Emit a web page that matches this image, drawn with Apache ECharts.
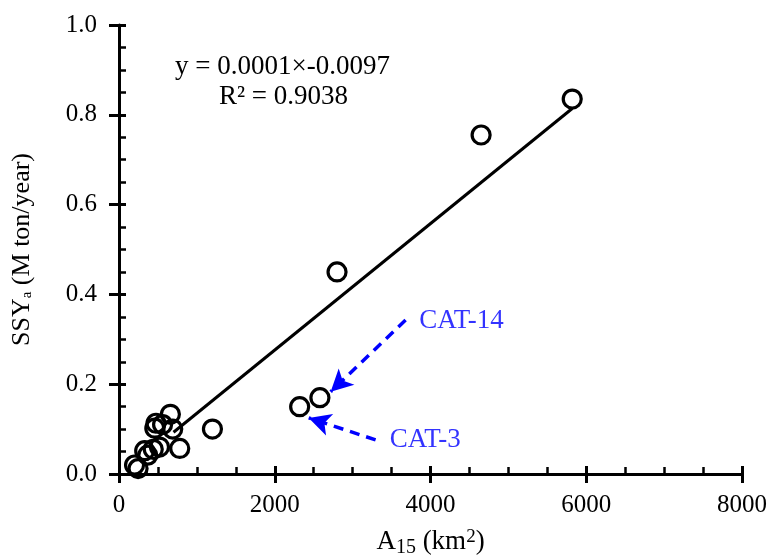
<!DOCTYPE html>
<html>
<head>
<meta charset="utf-8">
<script src="https://cdn.jsdelivr.net/npm/echarts@6/dist/echarts.min.js"></script>
<style>
html,body{margin:0;padding:0;background:#fff;}
#c{width:770px;height:555px;}
</style>
</head>
<body>
<div id="c"></div>
<script>
// Observed catchments: area A15 (km2) and SSYa (M ton/year)
const areaX = [200, 245, 330, 370, 440, 520, 460, 475, 560, 660, 690, 780, 1200, 2320, 2580, 2800, 4650, 5820];
const ssyY  = [0.020, 0.012, 0.052, 0.042, 0.055, 0.060, 0.102, 0.113, 0.110, 0.133, 0.100, 0.057, 0.100, 0.150, 0.170, 0.450, 0.755, 0.835];
// Regression line endpoints
const trendX = [700, 5820];
const trendY = [0.093, 0.814];
// Annotation arrows: [fromX, fromY, toX, toY]
const arrowCAT14 = [3680, 0.343, 2718, 0.183];
const arrowCAT3  = [3295, 0.076, 2436, 0.125];
// Annotation labels
const labelNames = ['CAT-14', 'CAT-3'];
const labelX = [3850, 3470];
const labelY = [0.340, 0.077];
// Axis ticks
const xTicks = [0, 2000, 4000, 6000, 8000];
const yTicks = [0.0, 0.2, 0.4, 0.6, 0.8, 1.0];

const FONT = 'Liberation Serif';
const INK = '#000';
const chart = echarts.init(document.getElementById('c'));

const baseX = {
  type: 'value', min: xTicks[0], max: xTicks[xTicks.length - 1], interval: 2000,
  splitLine: {show: false}
};
const baseY = {
  type: 'value', min: yTicks[0], max: yTicks[yTicks.length - 1], interval: 0.2,
  splitLine: {show: false}
};

chart.setOption({
  animation: false,
  backgroundColor: '#fff',
  grid: {left: 119, right: 28, top: 25, bottom: 81, containLabel: false, outerBoundsMode: 'none'},
  xAxis: [
    Object.assign({}, baseX, {
      position: 'bottom',
      axisLine: {show: true, lineStyle: {color: INK, width: 3}},
      axisTick: {show: true, inside: false, length: 9, lineStyle: {color: INK, width: 3}},
      axisLabel: {color: INK, fontFamily: FONT, fontSize: 25, margin: 19,
        formatter: v => String(v)},
      name: 'A{sub|15} (km{sup|2})',
      nameLocation: 'middle',
      nameGap: 52,
      nameTextStyle: {
        color: INK, fontFamily: FONT, fontSize: 27,
        rich: {
          sub: {fontFamily: FONT, fontSize: 20, color: INK, padding: [12, 0, 0, 0]},
          sup: {fontFamily: FONT, fontSize: 19, color: INK, padding: [0, 0, 10, 0]}
        }
      }
    }),
    Object.assign({}, baseX, {
      position: 'bottom',
      axisLine: {show: false},
      axisTick: {show: true, inside: true, length: 8, lineStyle: {color: INK, width: 3}},
      minorTick: {show: true, splitNumber: 4, length: 7, lineStyle: {color: INK, width: 2.5}},
      axisLabel: {show: false}
    })
  ],
  yAxis: [
    Object.assign({}, baseY, {
      position: 'left',
      axisLine: {show: true, lineStyle: {color: INK, width: 3}},
      axisTick: {show: true, inside: false, length: 10, lineStyle: {color: INK, width: 3}},
      axisLabel: {color: INK, fontFamily: FONT, fontSize: 25, margin: 22,
        formatter: v => v.toFixed(1)},
      name: 'SSY{sub|a} (M ton/year)',
      nameLocation: 'middle',
      nameRotate: 90,
      nameGap: 84,
      nameTextStyle: {
        color: INK, fontFamily: FONT, fontSize: 26,
        rich: {
          sub: {fontFamily: FONT, fontSize: 15, color: INK, padding: [10, 0, 0, 0]}
        }
      }
    }),
    Object.assign({}, baseY, {
      position: 'left',
      axisLine: {show: false},
      axisTick: {show: true, inside: true, length: 7, lineStyle: {color: INK, width: 3}},
      minorTick: {show: true, splitNumber: 4, length: 7, lineStyle: {color: INK, width: 2.5}},
      axisLabel: {show: false}
    })
  ],
  graphic: [
    {
      type: 'text', left: 175, top: 53,
      style: {
        text: 'y = 0.0001{g|×}-0.0097',
        fontFamily: FONT, fontSize: 27, fill: INK,
        rich: {g: {fontFamily: FONT, fontSize: 27, color: '#9aa0aa'}}
      }
    },
    {
      type: 'text', left: 219, top: 83,
      style: {
        text: 'R² = 0.9038',
        fontFamily: FONT, fontSize: 27, fill: INK
      }
    }
  ],
  series: [
    {
      type: 'line',
      xAxisIndex: 0, yAxisIndex: 0,
      data: trendX.map((x, i) => [x, trendY[i]]),
      showSymbol: false,
      symbol: 'none',
      lineStyle: {color: INK, width: 3},
      z: 2,
      markLine: {
        silent: true,
        symbol: ['none', 'arrow'],
        symbolSize: [17, 22],
        label: {show: false},
        lineStyle: {color: '#0000ff', width: 3.5, type: [10, 7]},
        data: [
          [{coord: [arrowCAT14[0], arrowCAT14[1]]}, {coord: [arrowCAT14[2], arrowCAT14[3]]}],
          [{coord: [arrowCAT3[0], arrowCAT3[1]]}, {coord: [arrowCAT3[2], arrowCAT3[3]]}]
        ]
      }
    },
    {
      type: 'scatter',
      xAxisIndex: 0, yAxisIndex: 0,
      data: areaX.map((x, i) => [x, ssyY[i]]),
      symbol: 'circle',
      symbolSize: 18,
      itemStyle: {color: 'rgba(255,255,255,0)', borderColor: '#000', borderWidth: 3.2, opacity: 1},
      z: 3
    },
    {
      type: 'scatter',
      xAxisIndex: 0, yAxisIndex: 0,
      data: labelNames.map((n, i) => ({name: n, value: [labelX[i], labelY[i]]})),
      symbolSize: 1,
      itemStyle: {color: 'rgba(0,0,0,0)'},
      label: {
        show: true, position: 'right', distance: 0,
        formatter: p => p.name,
        fontFamily: FONT, fontSize: 27, color: '#0000ff'
      },
      silent: true,
      z: 4
    }
  ]
});
</script>
</body>
</html>
